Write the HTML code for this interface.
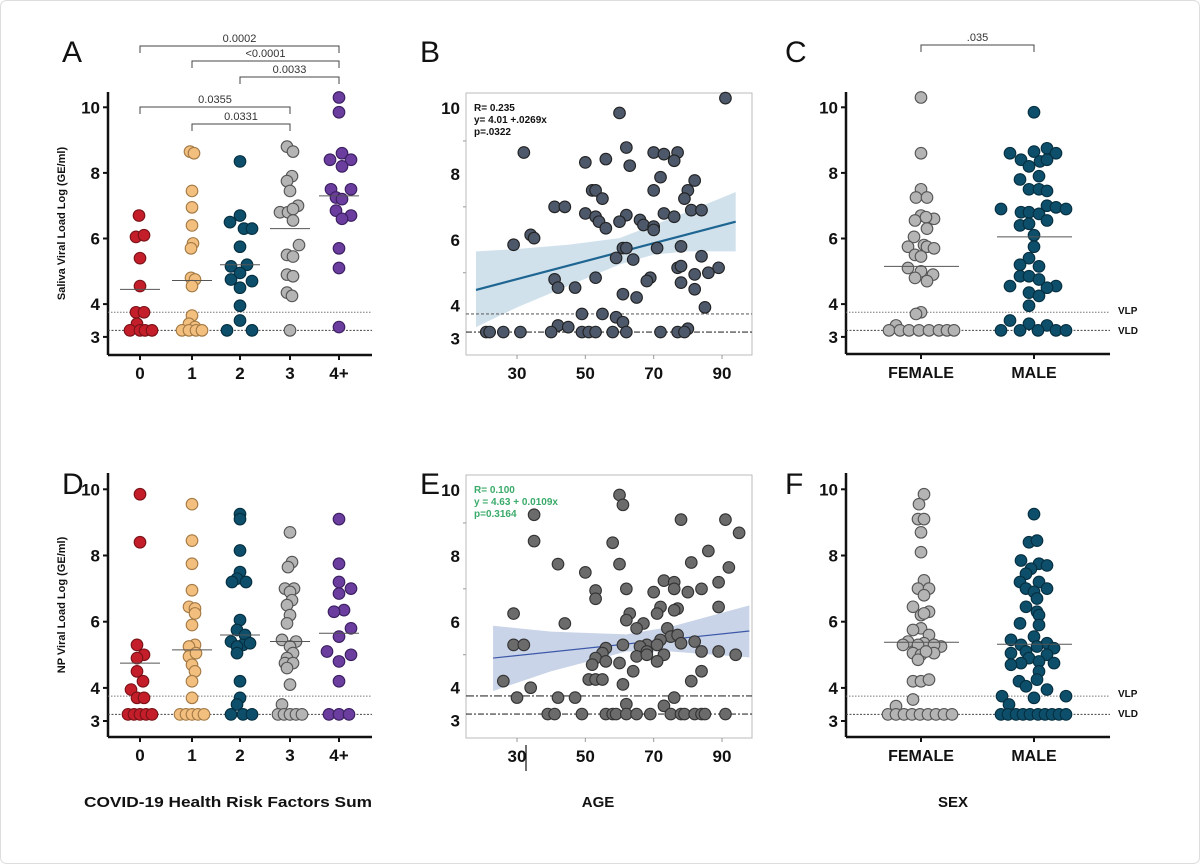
<!DOCTYPE html>
<html><head><meta charset="utf-8"><style>
html,body{margin:0;padding:0;background:#fff;}
#w{width:1200px;height:865px;position:relative;overflow:hidden;}
svg{position:absolute;left:0;top:0;}
</style></head><body><div id="w"><svg id="s" width="1200" height="865" xmlns="http://www.w3.org/2000/svg" font-family="Liberation Sans, Arial, sans-serif"></svg></div>
<script>
var s=document.getElementById('s');var o='';
o+='<rect x="0.5" y="0.5" width="1199" height="863" rx="6" fill="#fff" stroke="#ddd"/>';
function t(x,y,txt,sz,w,anc,fill,extra){o+='<text x="'+x+'" y="'+y+'" font-size="'+sz+'" font-weight="'+(w||'normal')+'" text-anchor="'+(anc||'start')+'" fill="'+(fill||'#111')+'" '+(extra||'')+'>'+txt+'</text>';}
function L(x1,y1,x2,y2,c,w,d){o+='<line x1="'+x1+'" y1="'+y1+'" x2="'+x2+'" y2="'+y2+'" stroke="'+c+'" stroke-width="'+w+'"'+(d?' stroke-dasharray="'+d+'"':'')+'/>';}
function C(x,y,f,st){o+='<circle cx="'+x+'" cy="'+y+'" r="5.8" fill="'+f+'" stroke="'+st+'" stroke-width="1.1"/>';}
var cols=[['#c41e2a','#7a1218'],['#f3bf7f','#a47a45'],['#0d4f6b','#062f40'],['#b4b4b4','#555'],['#6a3d9e','#3b1f60']];
t(62,62,'A',30);t(420,62,'B',30);t(785,62,'C',30);t(62,494,'D',30);t(420,494,'E',30);t(785,494,'F',30);
function stripAxes(ax,y0,k,top,bot,xr,cats,title){
 var Y=function(v){return y0+(10-v)*k;};
 L(ax,top,ax,bot,'#111',2.5);L(ax,bot,xr,bot,'#111',2.5);
 [10,8,6,4,3].forEach(function(v){L(ax-5,Y(v),ax,Y(v),'#111',2);t(ax-8,Y(v)+6,v,17,'bold','end');});
 L(ax,Y(3.75),xr,Y(3.75),'#777',1,'1.5,1.5');L(ax,Y(3.2),xr,Y(3.2),'#444',1,'2,1.5');
 cats.forEach(function(c){L(c[0],bot,c[0],bot+5,'#111',2);t(c[0],bot+24,c[1],c[2]||17,'bold','middle');});
 if(title)t(0,0,title,11,'bold','middle','#111','transform="translate(65,'+((top+bot)/2)+') rotate(-90)"');
 return Y;
}
function strip(Y,cx,data,col,med){data.forEach(function(d){C(cx+d[1],Y(d[0]),col[0],col[1]);});L(cx-20,Y(med),cx+20,Y(med),'#555',1);}
var ax=[140,192,240,290,339];
var YA=stripAxes(108,107.3,32.8,92,355,372,[[140,'0'],[192,'1'],[240,'2'],[290,'3'],[339,'4+']],'Saliva Viral Load Log (GE/ml)');
var A=[
[[6.7,-1],[6.05,-4],[6.1,4],[5.4,0],[4.55,0],[3.75,-4],[3.75,4],[3.4,-3],[3.2,-10],[3.2,0],[3.2,5],[3.2,12]],
[[8.65,-2],[8.6,2],[7.45,0],[6.95,0],[6.4,0],[5.85,1],[5.7,-1],[4.8,-1],[4.75,3],[4.55,0],[3.65,0],[3.4,-3],[3.3,3],[3.2,-10],[3.2,-3],[3.2,4],[3.2,10]],
[[8.35,0],[6.7,0],[6.5,-10],[6.3,4],[6.3,12],[5.75,0],[5.15,-9],[5.2,7],[4.95,0],[4.75,-9],[4.7,12],[4.5,0],[3.95,0],[3.5,0],[3.2,-13],[3.2,12]],
[[8.8,-3],[8.65,3],[7.9,2],[7.75,-3],[7.45,0],[7.0,8],[6.8,-10],[6.8,-2],[6.9,3],[6.55,3],[5.8,9],[5.5,-3],[5.45,3],[4.9,-3],[4.85,3],[4.35,-3],[4.25,2],[3.2,0]],
[[10.3,0],[9.85,0],[8.6,3],[8.4,-9],[8.4,12],[8.2,3],[7.5,-8],[7.5,12],[7.25,-3],[7.2,3],[6.85,-3],[6.7,12],[6.6,3],[5.7,0],[5.1,0],[3.3,0]]];
var medA=[4.45,4.72,5.2,6.3,7.3];
A.forEach(function(g,i){strip(YA,ax[i],g,cols[i],medA[i]);});
function br(x1,x2,y,lab){o+='<path d="M'+x1+','+(y+7)+'V'+y+'H'+x2+'V'+(y+7)+'" fill="none" stroke="#444" stroke-width="1"/>';t((x1+x2)/2,y-4,lab,11,'normal','middle','#333');}
br(140,339,46,'0.0002');br(192,339,61,'&lt;0.0001');br(240,339,77,'0.0033');br(140,290,107,'0.0355');br(192,290,124,'0.0331');
var YD=stripAxes(108,489.3,33.1,473,737,372,[[140,'0'],[192,'1'],[240,'2'],[290,'3'],[339,'4+']],'NP Viral Load Log (GE/ml)');
var D=[
[[9.85,0],[8.4,0],[5.3,-3],[5.0,4],[4.9,-3],[4.5,-3],[4.2,3],[3.95,-9],[3.7,-3],[3.7,4],[3.2,-12],[3.2,-6],[3.2,0],[3.2,6],[3.2,12]],
[[9.55,0],[8.45,0],[7.75,0],[6.95,0],[6.45,-3],[6.4,3],[6.25,3],[5.9,0],[5.3,3],[5.25,-3],[4.95,-3],[5.05,4],[4.7,0],[4.5,3],[4.2,0],[3.7,0],[3.2,-12],[3.2,-6],[3.2,0],[3.2,6],[3.2,12]],
[[9.25,0],[9.1,0],[8.15,0],[7.5,0],[7.3,-3],[7.2,-8],[7.2,6],[6.05,0],[5.75,-3],[5.6,5],[5.4,-9],[5.3,3],[5.35,10],[5.25,-3],[5.05,-3],[4.2,0],[3.7,0],[3.5,-3],[3.2,-9],[3.2,3],[3.2,12]],
[[8.7,0],[7.8,2],[7.65,-2],[7.0,-5],[7.0,4],[6.9,0],[6.65,2],[6.5,-3],[6.2,0],[5.95,-3],[5.45,-8],[5.4,6],[5.25,0],[5.05,3],[4.9,-3],[4.75,-5],[4.75,3],[4.6,-3],[4.1,0],[3.5,-8],[3.2,-12],[3.2,-6],[3.2,0],[3.2,6],[3.2,12]],
[[9.1,0],[7.75,0],[7.2,0],[7.0,12],[6.85,0],[6.35,5],[6.3,-5],[5.8,12],[5.55,0],[5.1,-12],[5.0,12],[4.8,0],[4.2,0],[3.2,-10],[3.2,0],[3.2,10]]];
var medD=[4.75,5.15,5.6,5.4,5.65];
D.forEach(function(g,i){strip(YD,ax[i],g,cols[i],medD[i]);});
var fx=921,mx=1034;
var YC=stripAxes(846,107.3,32.8,92,354,1110,[[fx,'FEMALE',16],[mx,'MALE',16]]);
t(1118,314,'VLP',10,'bold');t(1118,334,'VLD',10,'bold');
br(fx,mx,45,'.035');
var g=['#b4b4b4','#555'],tl=['#0d4f6b','#062f40'];
function sx(Y,cx,data,col,med){data.forEach(function(d){C(cx+d[1],Y(d[0]),col[0],col[1]);});L(cx-37,Y(med),cx+38,Y(med),'#555',1);}
var CF=[[10.3,0],[8.6,0],[7.5,0],[7.25,-5],[7.25,6],[6.7,0],[6.6,13],[6.55,-6],[6.65,5],[6.3,6],[6.05,-7],[5.8,3],[5.75,-13],[5.75,6],[5.7,13],[5.5,-6],[5.45,0],[5.1,-13],[5.0,0],[4.9,12],[4.8,-6],[4.7,6],[3.75,0],[3.7,-5],[3.35,-25],[3.2,-32],[3.2,-21],[3.2,-12],[3.2,-2],[3.2,8],[3.2,18],[3.2,26],[3.2,33]];
var CM=[[9.85,0],[8.75,13],[8.65,0],[8.6,-24],[8.6,22],[8.4,-13],[8.35,6],[8.2,-5],[8.4,13],[7.9,5],[7.8,-14],[7.5,-5],[7.5,5],[7.45,13],[7.0,13],[6.95,22],[6.9,32],[6.9,-33],[6.8,-13],[6.8,-5],[6.75,5],[6.55,13],[6.4,-14],[6.45,-5],[6.1,0],[5.75,0],[5.4,-5],[5.2,-14],[5.15,5],[4.85,-14],[4.85,-5],[4.75,5],[4.55,-24],[4.55,22],[4.5,13],[4.35,-5],[4.25,5],[3.95,-5],[3.5,-24],[3.4,-5],[3.35,13],[3.2,-33],[3.2,-14],[3.2,4],[3.2,22],[3.2,32]];
sx(YC,fx,CF,g,5.15);sx(YC,mx,CM,tl,6.05);
var YF=stripAxes(846,489.3,33.1,473,737,1110,[[fx,'FEMALE',16],[mx,'MALE',16]]);
t(1118,697,'VLP',10,'bold');t(1118,717,'VLD',10,'bold');
var FF=[[9.85,3],[9.55,-2],[9.1,-3],[9.1,3],[8.7,0],[8.1,0],[7.25,3],[7.0,-3],[7.0,8],[6.8,3],[6.45,-8],[6.3,8],[6.2,0],[6.25,3],[5.8,0],[5.75,-8],[5.6,8],[5.4,-13],[5.35,3],[5.3,-3],[5.3,-18],[5.25,20],[5.3,13],[5.05,-8],[5.05,13],[5.0,0],[4.85,-3],[5.1,5],[4.2,-8],[4.2,0],[4.25,8],[3.65,-8],[3.45,-25],[3.2,-33],[3.2,-25],[3.2,-17],[3.2,-9],[3.2,-1],[3.2,7],[3.2,15],[3.2,23],[3.2,31]];
var FM=[[9.25,0],[8.4,-5],[8.45,3],[7.85,-13],[7.75,5],[7.7,13],[7.6,-3],[7.45,-8],[7.2,-14],[7.2,5],[7.0,13],[7.0,-8],[6.9,0],[6.7,3],[6.45,-8],[6.3,3],[6.2,5],[5.95,-14],[5.9,5],[5.55,0],[5.45,-23],[5.3,-13],[5.35,13],[5.25,3],[5.2,20],[5.1,-8],[5.05,-23],[5.0,13],[4.9,-5],[4.8,5],[4.75,-13],[4.75,20],[4.7,-23],[4.5,5],[4.2,-15],[4.25,3],[4.05,-8],[3.95,13],[3.7,0],[3.75,-32],[3.75,32],[3.5,-25],[3.2,-33],[3.2,-26],[3.2,-18],[3.2,-11],[3.2,-4],[3.2,4],[3.2,11],[3.2,18],[3.2,25],[3.2,32]];
sx(YF,fx,FF,g,5.38);sx(YF,mx,FM,tl,5.32);
function scat(y0,top,bot,pts,line,band,lc,bc,dc,ds,txt,tc,dl){
 var X=function(a){return 517+(a-30)*3.417;};var Y=function(v){return y0+(10-v)*32.95;};
 o+='<rect x="466" y="'+top+'" width="286" height="'+(bot-top)+'" fill="none" stroke="#bbb" stroke-width="1"/>';
 [10,8,6,4,3].forEach(function(v){t(460,Y(v)+6,v,17,'bold','end');});
 [5,7,9].forEach(function(v){L(463,Y(v),466,Y(v),'#999',1);});
 [30,50,70,90].forEach(function(a){L(X(a),bot,X(a),bot+4,'#999',1);t(X(a),bot+24,a,17,'bold','middle');});
 var p='M';band.forEach(function(b,i){p+=(i?'L':'')+X(b[0])+','+Y(b[2]);});for(var i=band.length-1;i>=0;i--)p+='L'+X(band[i][0])+','+Y(band[i][1]);
 o+='<path d="'+p+'Z" fill="'+bc+'" opacity="0.55"/>';
 L(466,Y(3.75),752,Y(3.75),dl[0],1.2,dl[1]);L(466,Y(3.2),752,Y(3.2),'#333',1.2,'6,2,2,2');
 L(X(line[0]),Y(line[1]),X(line[2]),Y(line[3]),lc,line[4]);
 pts.forEach(function(q){C(X(q[0]),Y(q[1]),dc,ds);});
 txt.forEach(function(s,i){t(474,top+18+i*12,s,10,'bold','start',tc);});
}
var B=[[91,10.3],[60,9.85],[32,8.65],[62,8.8],[70,8.65],[73,8.6],[77,8.65],[50,8.35],[56,8.45],[63,8.25],[76,8.4],[72,7.9],[82,7.8],[52,7.5],[53,7.5],[70,7.5],[80,7.5],[55,7.25],[79,7.25],[41,7.0],[44,7.0],[81,6.9],[84,6.9],[50,6.8],[73,6.8],[53,6.7],[62,6.75],[76,6.7],[66,6.6],[54,6.55],[60,6.55],[67,6.45],[70,6.4],[70,6.3],[56,6.35],[34,6.15],[35,6.05],[29,5.85],[61,5.75],[62,5.75],[71,5.75],[78,5.8],[59,5.45],[64,5.4],[84,5.5],[77,5.15],[78,5.2],[89,5.15],[86,5.0],[82,4.95],[69,4.85],[68,4.75],[53,4.85],[41,4.8],[42,4.55],[47,4.55],[78,4.7],[82,4.5],[61,4.35],[65,4.25],[85,3.95],[49,3.75],[55,3.75],[59,3.65],[61,3.5],[42,3.4],[45,3.35],[80,3.3],[21,3.2],[22,3.2],[26,3.2],[31,3.2],[40,3.2],[49,3.2],[51,3.2],[53,3.2],[58,3.2],[62,3.2],[72,3.2],[77,3.2],[79,3.2]];
scat(108,93,355,B,[18,4.48,94,6.55,2.2],[[18,3.35,5.65],[30,3.95,5.72],[45,4.6,5.85],[60,5.25,6.05],[70,5.55,6.45],[80,5.65,6.85],[94,5.65,7.45]],'#1f6592','#a9c8dd','#4d586a','#222',['R= 0.235','y= 4.01 +.0269x','p=.0322'],'#111',['#666','3,2']);
var E=[[60,9.85],[61,9.55],[35,9.25],[78,9.1],[91,9.1],[95,8.7],[35,8.45],[58,8.4],[86,8.15],[42,7.75],[60,7.75],[81,7.8],[92,7.65],[50,7.5],[73,7.25],[76,7.2],[89,7.2],[62,7.0],[76,7.0],[84,7.0],[53,6.95],[70,6.9],[80,6.9],[53,6.7],[89,6.45],[72,6.45],[77,6.4],[76,6.35],[63,6.25],[71,6.25],[29,6.25],[62,6.05],[67,5.95],[44,5.95],[65,5.8],[74,5.8],[75,5.55],[77,5.6],[29,5.3],[32,5.3],[61,5.3],[72,5.45],[82,5.4],[78,5.35],[68,5.3],[66,5.25],[71,5.3],[56,5.2],[55,5.05],[68,5.1],[84,5.1],[89,5.1],[94,5.0],[53,4.9],[65,4.95],[68,5.0],[73,5.0],[52,4.7],[56,4.8],[60,4.75],[71,4.8],[64,4.5],[84,4.5],[26,4.2],[51,4.25],[53,4.25],[55,4.25],[81,4.2],[61,4.1],[34,4.0],[30,3.7],[42,3.7],[47,3.7],[76,3.7],[62,3.5],[73,3.45]];
[39,41,49,56,58,59,62,65,69,75,78,79,82,84,85,91].forEach(function(a){E.push([a,3.2]);});
scat(490,475,738,E,[23,4.9,98,5.72,1.2],[[23,3.9,5.88],[40,4.5,5.7],[62,5.1,5.62],[75,5.1,5.85],[98,4.92,6.5]],'#3c58a8','#9fb0d6','#6b6b6b','#333',['R= 0.100','y = 4.63 + 0.0109x','p=0.3164'],'#3aaa6a',['#333','8,2,2,2']);
L(526,745,526,771,'#111',1.2);
t(228,807,'COVID-19 Health Risk Factors Sum',15,'bold','middle','#111','textLength="288" lengthAdjust="spacingAndGlyphs"');
t(598,807,'AGE',15,'bold','middle');t(953,807,'SEX',15,'bold','middle');
s.innerHTML=o;
</script></body></html>
